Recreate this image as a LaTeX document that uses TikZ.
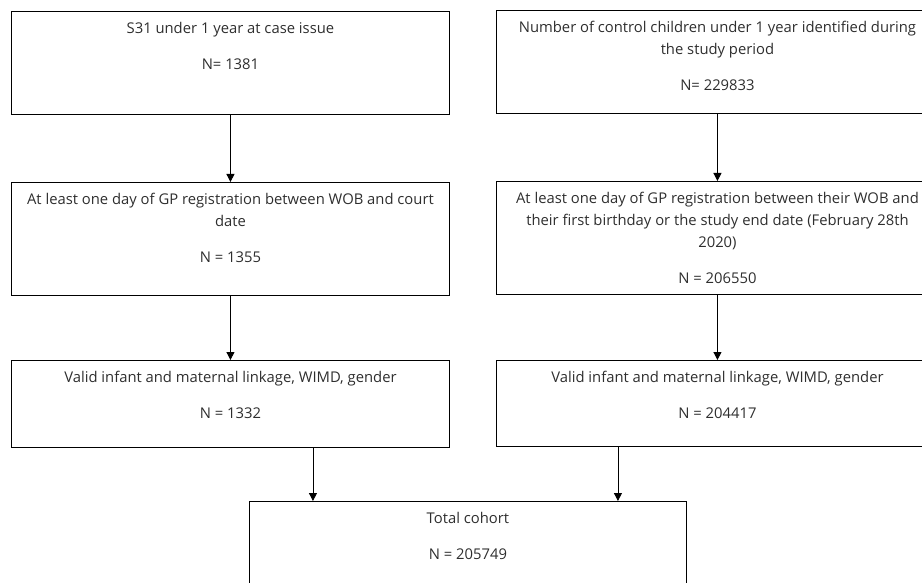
\documentclass[tikz,border=0pt]{standalone}
\usepackage{fontspec}
\setmainfont{Open Sans}
\usetikzlibrary{arrows.meta,positioning}

\definecolor{txtgray}{HTML}{2E2E2E}

\tikzset{
  flowbox/.style={draw=black, line width=0.9pt, rectangle, anchor=north west, inner sep=0pt, minimum width=#1},
  flowtext/.style={anchor=north, align=center, inner sep=0pt, text=txtgray, font=\fontsize{14.8}{22}\selectfont},
  flowarrow/.style={draw=black, line width=0.8pt, -{Triangle[length=8pt,width=8pt]}}
}

\begin{document}
\begin{tikzpicture}[x=1pt, y=-1pt]
            \useasboundingbox (0, 0) rectangle (922, 583);
            \clip (0, 0) rectangle (922, 583);
            % left column
            \node [flowbox=438pt, minimum height=103pt] (s31) at (11, 11) {};
            \node [flowtext] (s31txt) at ([yshift=-11pt]s31.north) {S31 under 1 year at case issue\\[14pt]N= 1381};
            \node [flowbox=438pt, minimum height=113pt] (gpleft) at (11, 182) {};
            \node [flowtext] (gplefttxt) at ([yshift=-11pt]gpleft.north) {At least one day of GP registration between WOB and court\\date\\[14pt]N = 1355};
            \node [flowbox=438pt, minimum height=87pt] (linkleft) at (11, 360) {};
            \node [flowtext] (linklefttxt) at ([yshift=-11pt]linkleft.north) {Valid infant and maternal linkage, WIMD, gender\\[14pt]N = 1332};
            % right column
            \node [flowbox=442pt, minimum height=103pt] (control) at (496, 10) {};
            \node [flowtext] (controltxt) at ([yshift=-11pt]control.north) {Number of control children under 1 year identified during\\the study period\\[14pt]N= 229833};
            \node [flowbox=442pt, minimum height=113pt] (gpright) at (496, 181) {};
            \node [flowtext] (gprighttxt) at ([yshift=-11pt]gpright.north) {At least one day of GP registration between their WOB and\\their first birthday or the study end date (February 28th\\2020)\\[14pt]N = 206550};
            \node [flowbox=442pt, minimum height=86pt] (linkright) at (496, 360) {};
            \node [flowtext] (linkrighttxt) at ([yshift=-11pt]linkright.north) {Valid infant and maternal linkage, WIMD, gender\\[14pt]N = 204417};
            % total
            \node [flowbox=437pt, minimum height=100pt] (total) at (249, 501) {};
            \node [flowtext] (totaltxt) at ([yshift=-11pt]total.north) {Total cohort\\[14pt]N = 205749};
            % arrows
            \draw [flowarrow] (s31.south) -- (gpleft.north);
            \draw [flowarrow] (gpleft.south) -- (linkleft.north);
            \draw [flowarrow] (control.south) -- (gpright.north);
            \draw [flowarrow] (gpright.south) -- (linkright.north);
            \draw [flowarrow] ([xshift=-155pt]total.north |- linkleft.south) -- ([xshift=-155pt]total.north);
            \draw [flowarrow] ([xshift=150pt]total.north |- linkright.south) -- ([xshift=150pt]total.north);
\end{tikzpicture}
\end{document}
